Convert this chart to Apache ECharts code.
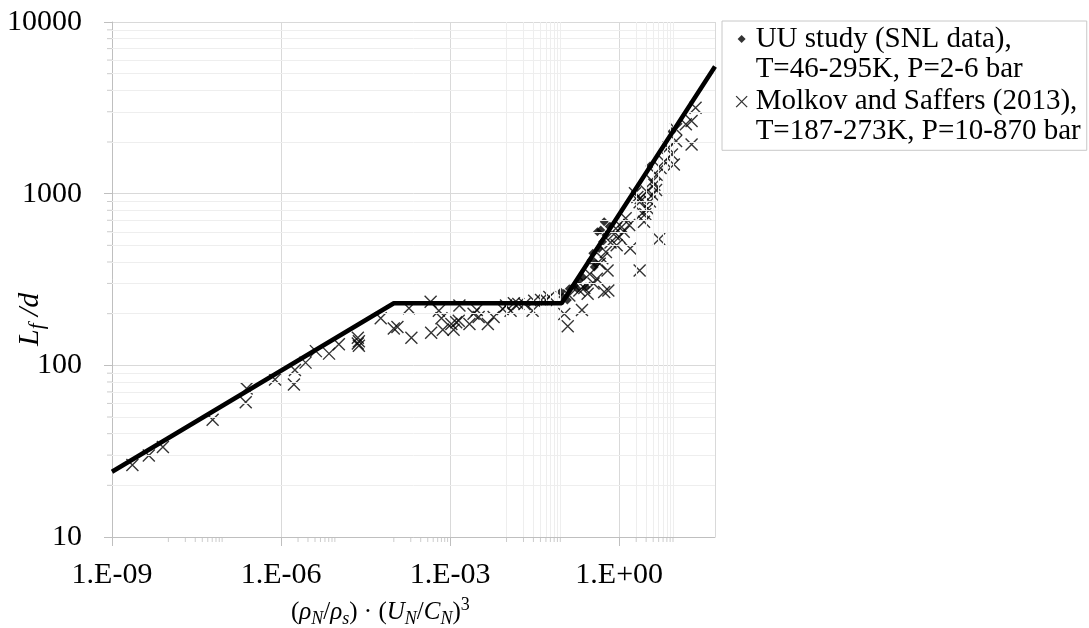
<!DOCTYPE html>
<html>
<head>
<meta charset="utf-8">
<script src="https://cdn.jsdelivr.net/npm/echarts@6/dist/echarts.min.js"></script>
<style>html,body{margin:0;padding:0;background:#fff}#c{width:1089px;height:628px}</style>
</head>
<body>
<div id="c"></div>
<script>
// ---- data ----
const xTicks = [1e-9, 1e-6, 1e-3, 1];
const yTicks = [10, 100, 1000, 10000];
const xMinor = [1e-8,2e-8,3e-8,4e-8,5e-8,6e-8,7e-8,8e-8,9e-8,
  2e-6,3e-6,4e-6,5e-6,6e-6,7e-6,8e-6,9e-6,
  1e-4,2e-4,3e-4,4e-4,5e-4,6e-4,7e-4,8e-4,9e-4,
  1e-2,2e-2,3e-2,4e-2,5e-2,6e-2,7e-2,8e-2,9e-2,
  2,3,4,5,6,7,8,9];
const yMinor = [20,30,40,50,60,70,80,90,200,300,400,500,600,700,800,900,2000,3000,4000,5000,6000,7000,8000,9000];

const fitX = [1e-9, 1e-4, 0.095, 50];
const fitY = [24, 230, 230, 5500];

const uuX = [0.092,0.10,0.12,0.13,0.16,0.18,0.196,0.224,0.257,0.315,0.34,0.36,0.387,0.41,0.44,0.47,0.506,0.54,0.58,0.665,3.5,8.6];
const uuY = [267,250,240,279,292,279,313,327,286,409,450,374,391,600,480,614,525,687,574,643,1450,2300];

const molX = [2.3e-9,4.5e-9,8e-9,6.1e-8,2.36e-7,2.45e-7,7.8e-7,1.69e-6,1.76e-6,2.72e-6,4.14e-6,7.1e-6,1.06e-5,
  2.3e-5,2.4e-5,2.4e-5,2.3e-5,5.86e-5,1.0e-4,1.16e-4,1.86e-4,2.05e-4,4.5e-4,4.6e-4,6.3e-4,7e-4,7.4e-4,
  1.05e-3,1.15e-3,1.28e-3,1.42e-3,1.46e-3,2.2e-3,2.6e-3,2.97e-3,3.2e-3,4.66e-3,5.9e-3,8.6e-3,9.8e-3,
  1.18e-2,1.35e-2,1.62e-2,2.08e-2,2.9e-2,3.1e-2,4.1e-2,5e-2,5.75e-2,
  0.106,0.122,0.13,0.196,0.218,0.24,0.275,0.3,0.35,0.4,0.45,0.5,0.54,0.58,0.62,0.64,0.7,0.8,0.87,0.9,1.0,1.1,1.2,1.3,1.5,1.57,
  2.1,2.3,2.3,2.56,2.75,2.9,3.2,3.5,3.9,4.2,4.5,5.1,
  1.9,2.4,3.06,3.9,4.6,5.4,6.3,7.4,8.6,9.3,10.2,10.2,15.2,19.2,19.2,22.6];
const molY = [26.3,29.8,33.4,48.2,61,73.3,82.8,77.4,94,103.7,121,117,132.8,
  145,138,130,134,188,164,167,215,145,235,155,208,188,161,
  174,161,178,182,223,174,200,210,191,174,191,213,223,
  208,230,228,228,208,238,240,240,250,
  199,169,255,273,210,282,261,340,300,319,390,420,267,458,357,273,520,580,627,500,560,640,600,718,656,479,
  955,890,357,769,687,760,820,900,985,1126,1050,545,
  1007,942,1030,1180,1290,1412,1545,1850,1690,1478,2370,2025,2535,2650,1935,3170];

const FONT = 'Liberation Serif';
const zip = (a, b) => a.map((v, i) => [v, b[i]]);
const fmtX = v => { const e = Math.round(Math.log10(v)); return '1.E' + (e < 0 ? '-' : '+') + String(Math.abs(e)).padStart(2, '0'); };

const chart = echarts.init(document.getElementById('c'), null, {renderer: 'canvas'});
const nameUU = 'UU study (SNL data),\nT=46-295K, P=2-6 bar';
const nameMol = 'Molkov and Saffers (2013),\nT=187-273K, P=10-870 bar';

chart.setOption({
  animation: false,
  backgroundColor: '#fff',
  grid: {left: 112, right: 374, top: 22, bottom: 91},
  xAxis: {
    type: 'log', logBase: 1000, min: 1e-9, max: 50,
    axisLine: {lineStyle: {color: '#bfbfbf', width: 1}},
    axisTick: {show: true, length: 9, lineStyle: {color: '#bfbfbf'}},
    axisLabel: {formatter: fmtX, fontFamily: FONT, fontSize: 30, color: '#000', margin: 23, showMaxLabel: false},
    splitLine: {show: true, lineStyle: {color: '#d9d9d9', width: 1}}
  },
  yAxis: {
    type: 'log', logBase: 10, min: 10, max: 10000,
    axisLine: {show: true, lineStyle: {color: '#bfbfbf', width: 1}},
    axisTick: {show: true, length: 8, lineStyle: {color: '#bfbfbf'}},
    axisLabel: {formatter: v => String(Math.round(v)), fontFamily: FONT, fontSize: 30, color: '#000', margin: 30},
    splitLine: {show: true, lineStyle: {color: '#d9d9d9', width: 1}}
  },
  legend: {
    orient: 'vertical', left: 722, top: 21, selectedMode: false,
    itemWidth: 18, itemHeight: 60, itemGap: 2,
    padding: [3, 6, 3, 10],
    borderColor: '#c8c8c8', borderWidth: 1, backgroundColor: '#fff',
    textStyle: {fontFamily: FONT, fontSize: 29, lineHeight: 30, color: '#000'},
    data: [
      {name: nameUU, icon: 'path://M9,11L13,15L9,19L5,15ZM0,0L0,0M18,60L18,60', itemStyle: {color: '#000', borderWidth: 0}},
      {name: nameMol, icon: 'path://M3.5,9.5L14.5,20.5M14.5,9.5L3.5,20.5M0,0L0,0M18,60L18,60', itemStyle: {color: 'rgba(0,0,0,0)', borderColor: '#000', borderWidth: 1.3}}
    ]
  },
  series: [
    {
      type: 'scatter', name: 'xminor', silent: true, clip: false, z: 1,
      data: xMinor.map(v => [v, 10]), symbol: 'rect', symbolSize: [1, 5], symbolOffset: [0, 2.5],
      itemStyle: {color: '#bfbfbf'},
      markLine: {silent: true, symbol: ['none', 'none'], label: {show: false}, animation: false,
        lineStyle: {color: '#eeeeee', width: 1, type: 'solid'},
        data: xMinor.map(v => ({xAxis: v}))}
    },
    {
      type: 'scatter', name: 'yminor', silent: true, clip: false, z: 1,
      data: yMinor.map(v => [1e-9, v]), symbol: 'rect', symbolSize: [5, 1], symbolOffset: [-2.5, 0],
      itemStyle: {color: '#bfbfbf'},
      markLine: {silent: true, symbol: ['none', 'none'], label: {show: false}, animation: false,
        lineStyle: {color: '#eeeeee', width: 1, type: 'solid'},
        data: yMinor.map(v => ({yAxis: v}))}
    },
    {
      type: 'scatter', name: nameMol, z: 3,
      data: zip(molX, molY),
      symbol: 'path://M0,0L10,10M10,0L0,10', symbolSize: 12,
      itemStyle: {color: 'rgba(0,0,0,0)', borderColor: '#000', borderWidth: 1.4}
    },
    {
      type: 'scatter', name: nameUU, z: 4,
      data: zip(uuX, uuY), symbol: 'diamond', symbolSize: 9,
      itemStyle: {color: '#000'}
    },
    {
      type: 'line', name: 'fit', z: 5, showSymbol: false, silent: true,
      data: zip(fitX, fitY),
      lineStyle: {color: '#000', width: 4.5}
    }
  ],
  graphic: [
    {
      type: 'text', left: 291, top: 596, silent: true,
      style: {
        text: '{p|(}{i|ρ}{s|N}{p|/}{i|ρ}{s|s}{p|) · (}{i|U}{s|N}{p|/}{i|C}{s|N}{p|)}{u|3}',
        rich: {
          p: {fontFamily: FONT, fontSize: 25, lineHeight: 32, verticalAlign: 'middle', fill: '#000'},
          i: {fontFamily: FONT, fontStyle: 'italic', fontSize: 25, lineHeight: 32, verticalAlign: 'middle', fill: '#000'},
          s: {fontFamily: FONT, fontStyle: 'italic', fontSize: 18, lineHeight: 21, verticalAlign: 'bottom', fill: '#000'},
          u: {fontFamily: FONT, fontSize: 18, lineHeight: 21, verticalAlign: 'top', fill: '#000'}
        }
      }
    },
    {
      type: 'text', x: 12, y: 346, rotation: Math.PI / 2, silent: true,
      style: {
        text: '{i|L}{s|f}{i| /d}',
        rich: {
          i: {fontFamily: FONT, fontStyle: 'italic', fontSize: 30, lineHeight: 36, verticalAlign: 'middle', fill: '#000'},
          s: {fontFamily: FONT, fontStyle: 'italic', fontSize: 21, lineHeight: 22, verticalAlign: 'bottom', fill: '#000'}
        }
      }
    }
  ]
});
</script>
</body>
</html>
